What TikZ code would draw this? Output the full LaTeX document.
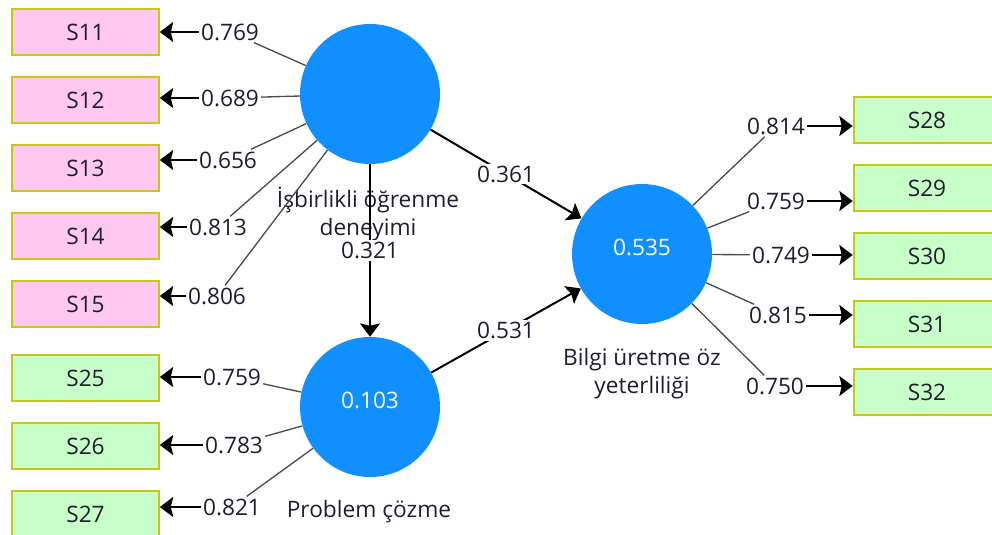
\documentclass[tikz,border=0pt]{standalone}
\usepackage{fontspec}
\setmainfont{Open Sans}
\usetikzlibrary{arrows.meta}
\definecolor{circblue}{RGB}{18,143,255}
\definecolor{pinkfill}{RGB}{255,200,240}
\definecolor{greenfill}{RGB}{200,255,200}
\definecolor{boxedge}{RGB}{200,200,20}
\definecolor{txt}{RGB}{30,30,45}
\tikzset{
  indbox/.style={rectangle, draw=boxedge, line width=1.5pt, minimum width=110pt,
    minimum height=34.5pt, inner sep=0pt, text=txt},
  pinkbox/.style={indbox, fill=pinkfill},
  greenbox/.style={indbox, fill=greenfill},
  latent/.style={circle, fill=circblue, minimum size=105pt, inner sep=0pt},
  rsq/.style={text=white, inner sep=0pt},
  lbl/.style={fill=white, inner sep=1.5pt, text=txt},
  load/.style={draw=black!70, line width=1pt},
  arr/.style={draw=black, line width=1.5pt, -{Stealth[length=10pt,width=15pt,inset=1.8pt]}},
  cname/.style={align=center, text=txt, inner sep=0pt}
}
\begin{document}
\begin{tikzpicture}[x=0.75pt, y=-0.75pt, font=\fontsize{17}{21}\selectfont]
\path[use as bounding box] (0,0) rectangle (992,535);

% latent variables
\node[latent] (c1) at (370,94) {};
\node[latent] (c2) at (370,407) {};
\node[latent] (c3) at (642,254) {};
\node[rsq] (v2) at (370,400) {0.103};
\node[rsq] (v3) at (642,247) {0.535};

% construct names
\node[cname] (n1) at (368,214) {İşbirlikli öğrenme\\deneyimi};
\node[cname] (n2) at (369,512) {Problem çözme};
\node[cname] (n3) at (642,374) {Bilgi üretme öz\\yeterliliği};

% indicators, left column
\node[pinkbox]  (s11) at (85.5,32)  {S11};
\node[pinkbox]  (s12) at (85.5,100) {S12};
\node[pinkbox]  (s13) at (85.5,168) {S13};
\node[pinkbox]  (s14) at (85.5,236) {S14};
\node[pinkbox]  (s15) at (85.5,304) {S15};
\node[greenbox] (s25) at (85.5,378) {S25};
\node[greenbox] (s26) at (85.5,446) {S26};
\node[greenbox] (s27) at (85.5,514) {S27};

% indicators, right column
\node[greenbox] (s28) at (927,120) {S28};
\node[greenbox] (s29) at (927,188) {S29};
\node[greenbox] (s30) at (927,256) {S30};
\node[greenbox] (s31) at (927,324) {S31};
\node[greenbox] (s32) at (927,392) {S32};

% outer loadings
\node[lbl] (l11) at (230,32)  {0.769};
\node[lbl] (l12) at (230,98)  {0.689};
\node[lbl] (l13) at (228,160) {0.656};
\node[lbl] (l14) at (218,227) {0.813};
\node[lbl] (l15) at (217,296) {0.806};
\node[lbl] (l25) at (232,377) {0.759};
\node[lbl] (l26) at (234,445) {0.783};
\node[lbl] (l27) at (232,507) {0.821};
\node[lbl] (l28) at (776,126) {0.814};
\node[lbl] (l29) at (776,201) {0.759};
\node[lbl] (l30) at (781,255) {0.749};
\node[lbl] (l31) at (778,315) {0.815};
\node[lbl] (l32) at (775,386) {0.750};

\foreach \c/\l/\s in {c1/l11/s11, c1/l12/s12, c1/l13/s13, c1/l14/s14, c1/l15/s15,
                      c2/l25/s25, c2/l26/s26, c2/l27/s27} {
  \draw[load] (\c) -- (\l);
  \draw[arr] (\l.west) -- (\l.west -| \s.east);
}
\foreach \l/\s in {l28/s28, l29/s29, l30/s30, l31/s31, l32/s32} {
  \draw[load] (c3) -- (\l);
  \draw[arr] (\l.east) -- (\l.east -| \s.west);
}

% structural paths
\draw[arr] (c1) -- node[lbl] (p12) {0.321} (c2);
\draw[arr] (c1) -- node[lbl] (p13) {0.361} (c3);
\draw[arr] (c2) -- node[lbl] (p23) {0.531} (c3);
\end{tikzpicture}
\end{document}
